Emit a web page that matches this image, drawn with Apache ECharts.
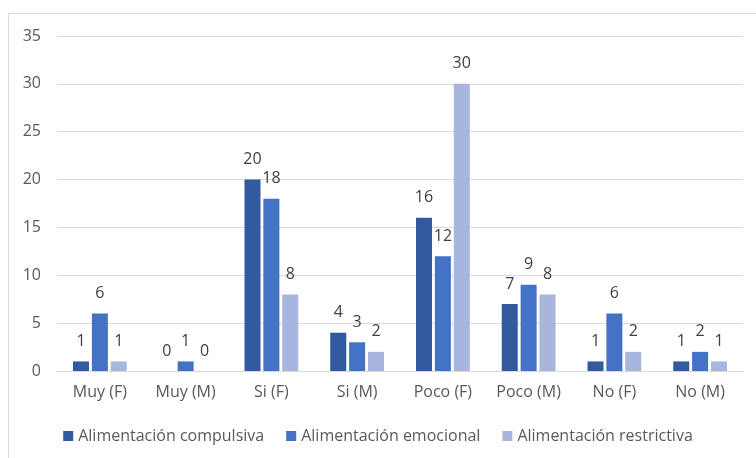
<!DOCTYPE html>
<html>
<head>
<meta charset="utf-8">
<script src="https://cdn.jsdelivr.net/npm/echarts@6/dist/echarts.min.js"></script>
<style>
  html, body { margin: 0; padding: 0; background: #fff; }
  #chart { width: 756px; height: 458px; }
</style>
</head>
<body>
<div id="chart"></div>
<script>
// Categories and counts per eating type
const categories = ['Muy (F)', 'Muy (M)', 'Si (F)', 'Si (M)', 'Poco (F)', 'Poco (M)', 'No (F)', 'No (M)'];
const compulsiva = [1, 0, 20, 4, 16, 7, 1, 1];
const emocional = [6, 1, 18, 3, 12, 9, 6, 2];
const restrictiva = [1, 0, 8, 2, 30, 8, 2, 1];
const seriesNames = ['Alimentación compulsiva', 'Alimentación emocional', 'Alimentación restrictiva'];
const seriesColors = ['#335a9f', '#4472c4', '#a8b5dc'];

const FONT = 'Open Sans';

const chart = echarts.init(document.getElementById('chart'), null, { renderer: 'canvas' });

function barSeries(name, data, color) {
  return {
    name: name,
    type: 'bar',
    data: data,
    barWidth: 16,
    barGap: '18%',
    itemStyle: { color: color },
    label: {
      show: true,
      position: 'top',
      distance: 12,
      color: '#404040',
      fontFamily: FONT,
      fontSize: 16
    }
  };
}

chart.setOption({
  animation: false,
  backgroundColor: '#ffffff',
  graphic: [{
    type: 'rect',
    shape: { x: 8.5, y: 13.5, width: 800, height: 500 },
    style: { fill: 'none', stroke: '#d9d9d9', lineWidth: 1 },
    silent: true
  }],
  grid: { left: 57, right: 13, top: 36, bottom: 87, containLabel: false },
  legend: {
    bottom: 9,
    left: 'center',
    itemWidth: 10,
    itemHeight: 10,
    itemGap: 22,
    icon: 'rect',
    textStyle: { color: '#595959', fontFamily: FONT, fontSize: 16 },
    data: seriesNames
  },
  xAxis: {
    type: 'category',
    data: categories,
    axisLine: { lineStyle: { color: '#d9d9d9' } },
    axisTick: { show: false },
    axisLabel: { color: '#595959', fontFamily: FONT, fontSize: 16, margin: 13 }
  },
  yAxis: {
    type: 'value',
    min: 0,
    max: 35,
    interval: 5,
    axisLine: { show: false },
    axisTick: { show: false },
    splitLine: { lineStyle: { color: '#d9d9d9' } },
    axisLabel: { color: '#595959', fontFamily: FONT, fontSize: 16, margin: 16 }
  },
  series: [
    barSeries(seriesNames[0], compulsiva, seriesColors[0]),
    barSeries(seriesNames[1], emocional, seriesColors[1]),
    barSeries(seriesNames[2], restrictiva, seriesColors[2])
  ]
});
</script>
</body>
</html>
